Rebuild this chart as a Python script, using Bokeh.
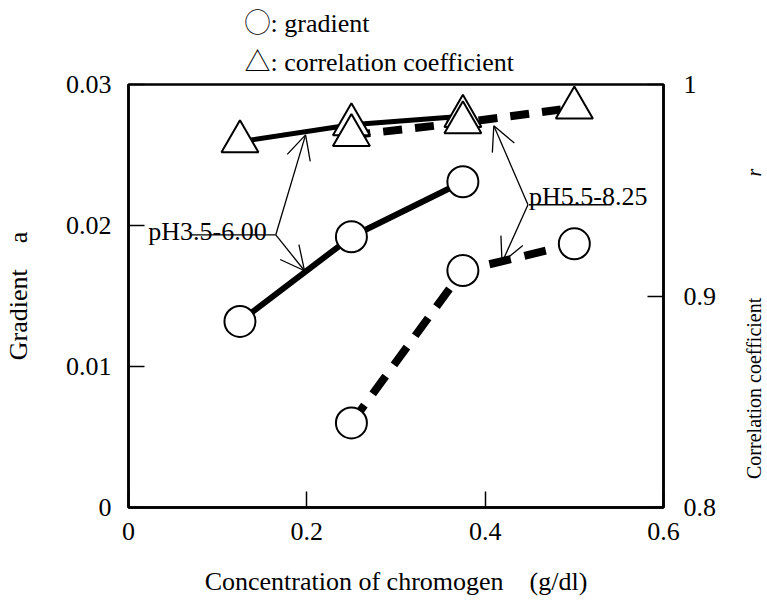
import math
from bokeh.plotting import figure
from bokeh.layouts import row
from bokeh.models import Range1d, LinearAxis, FixedTicker, Label, Arrow, OpenHead, Title
from bokeh.embed import file_html
from bokeh.resources import INLINE

# ---- data ----
conc_low = [0.125, 0.25, 0.375]          # pH3.5-6.00 concentrations (g/dl)
conc_high = [0.25, 0.375, 0.5]           # pH5.5-8.25 concentrations (g/dl)
grad_low = [0.0132, 0.0192, 0.0231]      # gradient a, pH3.5-6.00
grad_high = [0.0060, 0.0168, 0.0187]     # gradient a, pH5.5-8.25
r_low = [0.973, 0.981, 0.985]            # correlation coefficient r, pH3.5-6.00
r_high = [0.976, 0.982, 0.989]           # correlation coefficient r, pH5.5-8.25

x_ticks = [0, 0.2, 0.4, 0.6]
x_tick_labels = ["0", "0.2", "0.4", "0.6"]
y_ticks = [0, 0.01, 0.02, 0.03]
y_tick_labels = ["0", "0.01", "0.02", "0.03"]
r_ticks = [0.8, 0.9, 1.0]
r_tick_labels = ["0.8", "0.9", "1"]

FONT = "Liberation Serif"
SYMFONT = "Liberation Serif, Noto Sans CJK JP"
NB = "\u00a0"

p = figure(width=727, height=600, output_backend="svg", toolbar_location=None,
           x_range=Range1d(0, 0.6), y_range=Range1d(0, 0.03),
           min_border_left=127, min_border_right=64,
           min_border_top=84, min_border_bottom=93)
p.title.visible = False
p.extra_y_ranges = {"r": Range1d(0.8, 1.0)}
p.xgrid.visible = False
p.ygrid.visible = False
p.outline_line_color = "black"
p.outline_line_width = 2.5
p.background_fill_color = "white"
p.border_fill_color = "white"

raxis = LinearAxis(y_range_name="r")
p.add_layout(raxis, "right")

def style_axis(ax, ticks, labels, standoff):
    ax.ticker = FixedTicker(ticks=ticks)
    ax.major_label_overrides = {t: l for t, l in zip(ticks, labels)}
    ax.axis_line_color = "black"
    ax.axis_line_width = 2.5
    ax.major_tick_in = 16
    ax.major_tick_out = 0
    ax.major_tick_line_color = "black"
    ax.major_tick_line_width = 1.5
    ax.minor_tick_in = 0
    ax.minor_tick_out = 0
    ax.major_label_text_font = FONT
    ax.major_label_text_font_size = "26px"
    ax.major_label_text_color = "black"
    ax.major_label_standoff = standoff
    ax.axis_label_text_font = FONT
    ax.axis_label_text_font_style = "normal"
    ax.axis_label_text_color = "black"

style_axis(p.xaxis[0], x_ticks, x_tick_labels, 15)
style_axis(p.yaxis[0], y_ticks, y_tick_labels, 17)
style_axis(raxis, r_ticks, r_tick_labels, 20)

# ---- axis titles ----
p.xaxis[0].axis_label = "Concentration of chromogen" + NB * 4 + "(g/dl)"
p.xaxis[0].axis_label_text_font_size = "26px"
p.xaxis[0].axis_label_standoff = 24

p.yaxis[0].axis_label = "Gradient" + NB * 4 + "a"
p.yaxis[0].axis_label_text_font_size = "26px"
p.yaxis[0].axis_label_standoff = 30

# ---- legend as titles above the frame ----
t_corr = Title(text="△: correlation coefficient", align="left", offset=116,
               text_font=SYMFONT, text_font_size="26px", text_font_style="normal",
               text_color="black", standoff=16)
t_grad = Title(text="◯: gradient", align="left", offset=116,
               text_font=SYMFONT, text_font_size="26px", text_font_style="normal",
               text_color="black", standoff=0)
p.add_layout(t_corr, "above")
p.add_layout(t_grad, "above")

# ---- curves ----
p.line(conc_low, r_low, y_range_name="r", line_color="black", line_width=5)
p.line(conc_high, r_high, y_range_name="r", line_color="black", line_width=8,
       line_dash="19 13")
p.line(conc_low, grad_low, line_color="black", line_width=6)
p.line(conc_high, grad_high, line_color="black", line_width=8, line_dash="22 14")

p.scatter(conc_low, r_low, y_range_name="r", marker="triangle", size=37,
          fill_color="white", line_color="black", line_width=2)
p.scatter(conc_high, r_high, y_range_name="r", marker="triangle", size=37,
          fill_color="white", line_color="black", line_width=2)
p.scatter(conc_low, grad_low, marker="circle", size=31,
          fill_color="white", line_color="black", line_width=2)
p.scatter(conc_high, grad_high, marker="circle", size=31,
          fill_color="white", line_color="black", line_width=2)

# ---- annotations: pH ranges with arrows ----
p.line([0.0705, 0.1652], [0.01934, 0.01934], line_color="black", line_width=1.3)
p.line([0.4491, 0.5418], [0.02147, 0.02147], line_color="black", line_width=1.3)

arrows = [
    (0.1652, 0.01934, 0.1986, 0.02643),
    (0.1652, 0.01934, 0.1974, 0.01679),
    (0.4480, 0.02147, 0.4097, 0.02707),
    (0.4480, 0.02147, 0.4189, 0.01738),
]
for xs, ys, xe, ye in arrows:
    p.add_layout(Arrow(end=OpenHead(size=24, line_width=1.3, line_color="black"),
                       x_start=xs, y_start=ys, x_end=xe, y_end=ye,
                       line_color="black", line_width=1.3))

for x, y, t in [(0.0222, 0.01957, "pH3.5-6.00"), (0.4491, 0.02203, "pH5.5-8.25")]:
    p.add_layout(Label(x=x, y=y, text=t, text_font=FONT, text_font_size="26px",
                       text_align="left", text_baseline="alphabetic",
                       text_color="black"))

# ---- right-hand title strip (upward-reading "Correlation coefficient  r") ----
p2 = figure(width=40, height=600, output_backend="svg", toolbar_location=None,
            x_range=Range1d(0, 40), y_range=Range1d(0, 600),
            min_border=0, min_border_left=0, min_border_right=0,
            min_border_top=0, min_border_bottom=0)
p2.title.visible = False
p2.axis.visible = False
p2.xgrid.visible = False
p2.ygrid.visible = False
p2.outline_line_color = None
p2.background_fill_color = "white"
p2.border_fill_color = "white"
p2.add_layout(Label(x=26, y=169, text="Correlation coefficient", angle=math.pi / 2,
                    text_font=FONT, text_font_size="20px", text_align="center",
                    text_baseline="middle", text_color="black"))
p2.add_layout(Label(x=26, y=475, text="r", angle=math.pi / 2,
                    text_font=FONT, text_font_size="20px", text_font_style="italic",
                    text_align="center", text_baseline="middle", text_color="black"))

layout = row(p, p2)
open("out.html", "w").write(file_html(layout, INLINE))
